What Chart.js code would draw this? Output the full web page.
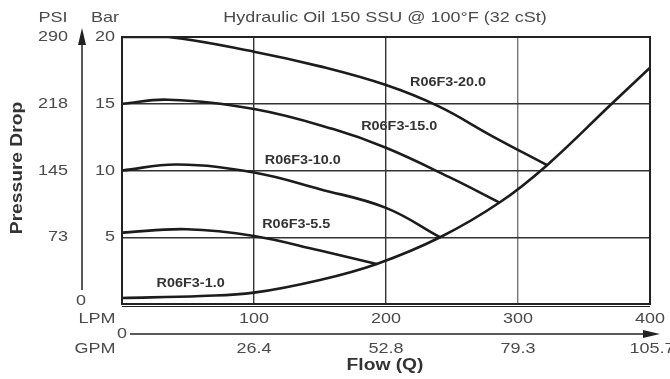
<!DOCTYPE html>
<html>
<head>
<meta charset="utf-8">
<script src="https://cdn.jsdelivr.net/npm/chart.js@4.4.0/dist/chart.umd.min.js"></script>
<style>
  html, body { margin: 0; padding: 0; background: #fff; }
  #wrap { width: 670px; height: 379px; }
</style>
</head>
<body>
<div id="wrap"><canvas id="flowChart" width="670" height="379"></canvas></div>
<script>
// pressure drop curves, [flow LPM, pressure bar]
const curve20 = [[0, 20], [35, 20], [100, 18.9], [150, 17.8], [200, 16.4], [240, 14.8], [280, 12.6], [322, 10.4]];
const curve15 = [[0, 15], [35, 15.3], [100, 14.6], [160, 13.1], [200, 11.7], [248, 9.5], [286, 7.6]];
const curve10 = [[0, 10], [42, 10.45], [100, 9.85], [150, 8.6], [200, 7.2], [241, 5.0]];
const curve55 = [[0, 5.35], [49, 5.6], [100, 5.1], [150, 4.0], [193, 3.0]];
const curve10min = [[0, 0.45], [60, 0.6], [100, 0.85], [150, 1.8], [193, 3.0], [241, 5.0], [286, 7.6], [322, 10.4], [371, 15], [400, 17.7]];

const curveNames = ["R06F3-20.0", "R06F3-15.0", "R06F3-10.0", "R06F3-5.5", "R06F3-1.0"];
const nameAt = [[247, 16.6], [210, 13.3], [137, 10.75], [132, 5.95], [52, 1.5]];

const barTicks = [20, 15, 10, 5];
const psiTicks = ["290", "218", "145", "73", "0"];
const psiAt = [20, 15, 10, 5, 0];
const lpmTicks = [100, 200, 300, 400];
const gpmTicks = ["26.4", "52.8", "79.3", "105.7"];

const STRETCH = 1.2;

function txt(ctx, s, x, y, font, align, color) {
  ctx.save();
  ctx.font = font;
  ctx.fillStyle = color;
  ctx.textAlign = align;
  ctx.textBaseline = "middle";
  ctx.translate(x, y);
  ctx.scale(STRETCH, 1);
  ctx.fillText(s, 0, 0);
  ctx.restore();
}

const toPts = arr => arr.map(p => ({ x: p[0], y: p[1] }));

const decor = {
  id: "decor",
  afterDraw(chart) {
    const ctx = chart.ctx;
    const xs = chart.scales.x, ys = chart.scales.y;
    const a = chart.chartArea;
    const grey = "#4a4a4a";
    const tf = "15px 'Liberation Sans', Arial, sans-serif";

    // frame
    ctx.save();
    ctx.strokeStyle = "#222";
    ctx.lineWidth = 2;
    ctx.strokeRect(a.left, a.top, a.right - a.left, a.bottom - a.top);
    ctx.beginPath();
    ctx.moveTo(a.left, a.bottom + 2.5);
    ctx.lineTo(a.right, a.bottom + 2.5);
    ctx.lineWidth = 1;
    ctx.stroke();
    ctx.restore();

    // title
    txt(ctx, "Hydraulic Oil 150 SSU @ 100°F (32 cSt)", 385, 18, tf, "center", grey);

    // pressure axis
    txt(ctx, "PSI", 53, 18, tf, "center", grey);
    txt(ctx, "Bar", 105, 18, tf, "center", grey);
    barTicks.forEach(v => txt(ctx, String(v), 115, ys.getPixelForValue(v), tf, "right", grey));
    psiTicks.forEach((s, i) => {
      if (psiAt[i] === 0) txt(ctx, s, 81, ys.getPixelForValue(0) - 3, tf, "center", grey);
      else txt(ctx, s, 68, ys.getPixelForValue(psiAt[i]), tf, "right", grey);
    });
    ctx.save();
    ctx.strokeStyle = "#222";
    ctx.fillStyle = "#222";
    ctx.lineWidth = 1.5;
    ctx.beginPath();
    ctx.moveTo(82, 290);
    ctx.lineTo(82, 40);
    ctx.stroke();
    ctx.beginPath();
    ctx.moveTo(82, 28);
    ctx.lineTo(78, 45);
    ctx.lineTo(86, 45);
    ctx.closePath();
    ctx.fill();
    ctx.restore();

    ctx.save();
    ctx.translate(18, 168);
    ctx.rotate(-Math.PI / 2);
    ctx.scale(STRETCH, 1);
    ctx.font = "bold 16px 'Liberation Sans', Arial, sans-serif";
    ctx.fillStyle = "#333";
    ctx.textAlign = "center";
    ctx.textBaseline = "middle";
    ctx.fillText("Pressure Drop", 0, 0);
    ctx.restore();

    // flow axis
    const yL = a.bottom + 15, yG = a.bottom + 45, yLine = a.bottom + 30;
    txt(ctx, "LPM", 97, yL, tf, "center", grey);
    txt(ctx, "GPM", 95, yG, tf, "center", grey);
    txt(ctx, "0", 122, yLine, tf, "center", grey);
    lpmTicks.forEach((v, i) => {
      const px = xs.getPixelForValue(v);
      txt(ctx, String(v), px, yL, tf, "center", grey);
      txt(ctx, gpmTicks[i], px + (i === 3 ? 2 : 0), yG, tf, "center", grey);
    });
    ctx.save();
    ctx.strokeStyle = "#222";
    ctx.fillStyle = "#222";
    ctx.lineWidth = 1.5;
    ctx.beginPath();
    ctx.moveTo(130, yLine);
    ctx.lineTo(648, yLine);
    ctx.stroke();
    ctx.beginPath();
    ctx.moveTo(660, yLine);
    ctx.lineTo(643, yLine - 4);
    ctx.lineTo(643, yLine + 4);
    ctx.closePath();
    ctx.fill();
    ctx.restore();
    txt(ctx, "Flow (Q)", 385, a.bottom + 62, "bold 16px 'Liberation Sans', Arial, sans-serif", "center", "#333");

    // curve names
    curveNames.forEach((n, i) => {
      txt(ctx, n, xs.getPixelForValue(nameAt[i][0]), ys.getPixelForValue(nameAt[i][1]),
        "bold 12px 'Liberation Sans', Arial, sans-serif", "center", "#333");
    });
  }
};

const lineStyle = {
  borderColor: "#1c1c1c",
  borderWidth: 2.6,
  pointRadius: 0,
  fill: false,
  tension: 0.4
};

new Chart(document.getElementById("flowChart"), {
  type: "line",
  data: {
    datasets: [
      Object.assign({ label: curveNames[0], data: toPts(curve20) }, lineStyle),
      Object.assign({ label: curveNames[1], data: toPts(curve15) }, lineStyle),
      Object.assign({ label: curveNames[2], data: toPts(curve10) }, lineStyle),
      Object.assign({ label: curveNames[3], data: toPts(curve55) }, lineStyle),
      Object.assign({ label: curveNames[4], data: toPts(curve10min) }, lineStyle)
    ]
  },
  options: {
    responsive: false,
    animation: false,
    layout: { padding: { left: 122, top: 37, right: 20, bottom: 75 } },
    plugins: { legend: { display: false }, tooltip: { enabled: false } },
    scales: {
      x: {
        type: "linear",
        min: 0,
        max: 400,
        ticks: { display: false, stepSize: 100 },
        border: { display: false },
        grid: {
          drawTicks: false,
          color: c => (c.tick && c.tick.value === 300 ? "#777" : "#333"),
          lineWidth: 1.4
        }
      },
      y: {
        min: 0,
        max: 20,
        ticks: { display: false, stepSize: 5 },
        border: { display: false },
        grid: { drawTicks: false, color: "#333", lineWidth: 1.4 }
      }
    }
  },
  plugins: [decor]
});
</script>
</body>
</html>
